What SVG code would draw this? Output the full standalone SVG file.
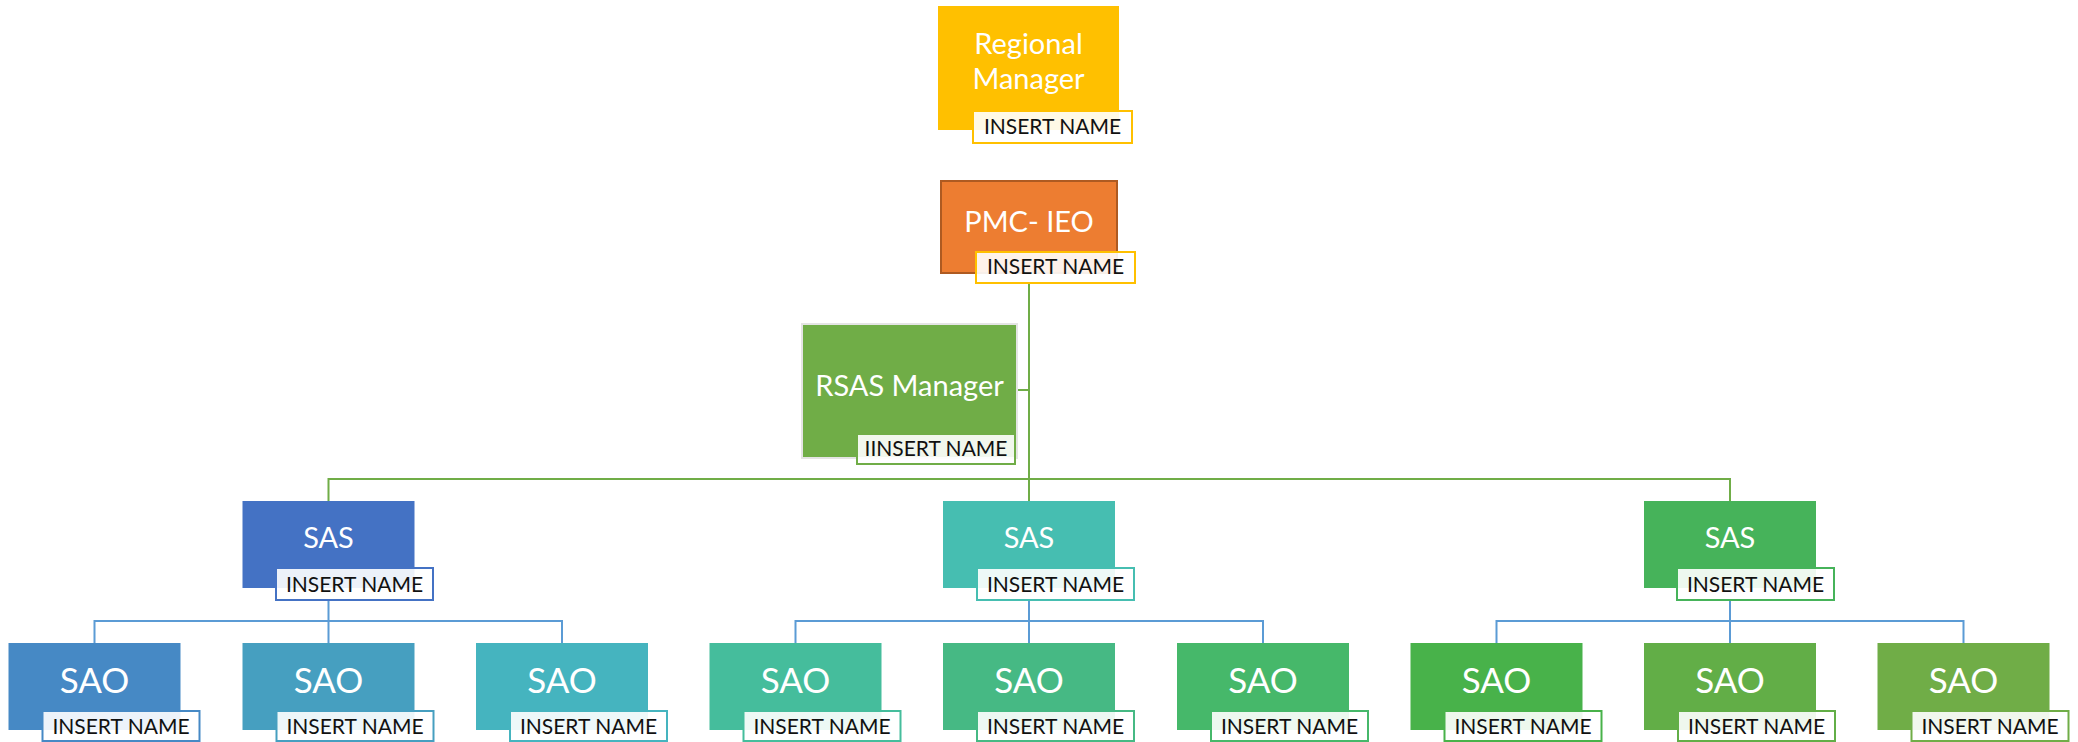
<svg xmlns="http://www.w3.org/2000/svg" width="2078" height="742" viewBox="0 0 2078 742">
  <style>
    .title { font-family: Lato, "Open Sans", sans-serif; fill: #ffffff; text-anchor: middle; font-size: 29px; }
    .big { font-size: 35px; }
    .name { font-family: Lato, "Open Sans", sans-serif; fill: #111111; text-anchor: middle; font-size: 21px; }
    .tag { fill: #ffffff; fill-opacity: 0.9; stroke-width: 2; }
    .wire-g { fill: none; stroke: #70AD47; stroke-width: 2; }
    .wire-b { fill: none; stroke: #5B9BD5; stroke-width: 2; }
  </style>

  <!-- connectors -->
  <g id="connectors">
    <path class="wire-g" d="M1029 283 V501"/>
    <path class="wire-g" d="M1017 390 H1029"/>
    <path class="wire-g" d="M328.5 501 V479 H1730 V501"/>
    <path class="wire-b" d="M328.5 600 V621 M94.5 643 V621 H562 V643 M328.5 621 V643"/>
    <path class="wire-b" d="M1029 600 V621 M795.5 643 V621 H1263 V643 M1029 621 V643"/>
    <path class="wire-b" d="M1730 600 V621 M1496.5 643 V621 H1963.5 V643 M1730 621 V643"/>
  </g>

  <!-- top level -->
  <g id="regional-manager">
    <rect x="938" y="6" width="181" height="124" fill="#FFC000"/>
    <text class="title" x="1028.5" y="54">Regional</text>
    <text class="title" x="1028.5" y="89">Manager</text>
    <rect class="tag" x="973" y="111" width="159" height="32" stroke="#FFC000"/>
    <text class="name" x="1052.5" y="134">INSERT NAME</text>
  </g>

  <g id="pmc-ieo">
    <rect x="941" y="181" width="176" height="92" fill="#ED7D31" stroke="#AE5A21" stroke-width="2"/>
    <text class="title" x="1029" y="232">PMC- IEO</text>
    <rect class="tag" x="976" y="252" width="159" height="31" stroke="#FFC000"/>
    <text class="name" x="1055.5" y="274">INSERT NAME</text>
  </g>

  <g id="rsas-manager">
    <rect x="802" y="324" width="215" height="134" fill="#70AD47" stroke="#E4E4E4" stroke-width="2"/>
    <text class="title" x="909.5" y="396">RSAS Manager</text>
    <rect class="tag" x="857" y="434" width="158" height="30" stroke="#70AD47"/>
    <text class="name" x="936" y="456">IINSERT NAME</text>
  </g>

  <!-- SAS level -->
  <g id="sas-1">
    <rect x="242.5" y="501" width="172" height="87" fill="#4472C4"/>
    <text class="title" x="328.5" y="548">SAS</text>
    <rect class="tag" x="276" y="568" width="157" height="32" stroke="#4472C4"/>
    <text class="name" x="354.5" y="592">INSERT NAME</text>
  </g>
  <g id="sas-2">
    <rect x="943" y="501" width="172" height="87" fill="#46BEB1"/>
    <text class="title" x="1029" y="548">SAS</text>
    <rect class="tag" x="977" y="568" width="157" height="32" stroke="#46BEB1"/>
    <text class="name" x="1055.5" y="592">INSERT NAME</text>
  </g>
  <g id="sas-3">
    <rect x="1644" y="501" width="172" height="87" fill="#46B35A"/>
    <text class="title" x="1730" y="548">SAS</text>
    <rect class="tag" x="1677" y="568" width="157" height="32" stroke="#46B35A"/>
    <text class="name" x="1755.5" y="592">INSERT NAME</text>
  </g>

  <!-- SAO level -->
  <g id="sao-1">
    <rect x="8.5" y="643" width="172" height="87" fill="#4689C5"/>
    <text class="title big" x="94.5" y="693">SAO</text>
    <rect class="tag" x="42.5" y="711" width="157" height="30" stroke="#4689C5"/>
    <text class="name" x="121" y="734">INSERT NAME</text>
  </g>
  <g id="sao-2">
    <rect x="242.5" y="643" width="172" height="87" fill="#469FC0"/>
    <text class="title big" x="328.5" y="693">SAO</text>
    <rect class="tag" x="276.5" y="711" width="157" height="30" stroke="#469FC0"/>
    <text class="name" x="355" y="734">INSERT NAME</text>
  </g>
  <g id="sao-3">
    <rect x="476" y="643" width="172" height="87" fill="#45B4BF"/>
    <text class="title big" x="562" y="693">SAO</text>
    <rect class="tag" x="510" y="711" width="157" height="30" stroke="#45B4BF"/>
    <text class="name" x="588.5" y="734">INSERT NAME</text>
  </g>
  <g id="sao-4">
    <rect x="709.5" y="643" width="172" height="87" fill="#45BD9C"/>
    <text class="title big" x="795.5" y="693">SAO</text>
    <rect class="tag" x="743.5" y="711" width="157" height="30" stroke="#45BD9C"/>
    <text class="name" x="822" y="734">INSERT NAME</text>
  </g>
  <g id="sao-5">
    <rect x="943" y="643" width="172" height="87" fill="#46B984"/>
    <text class="title big" x="1029" y="693">SAO</text>
    <rect class="tag" x="977" y="711" width="157" height="30" stroke="#46B984"/>
    <text class="name" x="1055.5" y="734">INSERT NAME</text>
  </g>
  <g id="sao-6">
    <rect x="1177" y="643" width="172" height="87" fill="#46B86A"/>
    <text class="title big" x="1263" y="693">SAO</text>
    <rect class="tag" x="1211" y="711" width="157" height="30" stroke="#46B86A"/>
    <text class="name" x="1289.5" y="734">INSERT NAME</text>
  </g>
  <g id="sao-7">
    <rect x="1410.5" y="643" width="172" height="87" fill="#48B24A"/>
    <text class="title big" x="1496.5" y="693">SAO</text>
    <rect class="tag" x="1444.5" y="711" width="157" height="30" stroke="#48B24A"/>
    <text class="name" x="1523" y="734">INSERT NAME</text>
  </g>
  <g id="sao-8">
    <rect x="1644" y="643" width="172" height="87" fill="#62AE47"/>
    <text class="title big" x="1730" y="693">SAO</text>
    <rect class="tag" x="1678" y="711" width="157" height="30" stroke="#62AE47"/>
    <text class="name" x="1756.5" y="734">INSERT NAME</text>
  </g>
  <g id="sao-9">
    <rect x="1877.5" y="643" width="172" height="87" fill="#70AD47"/>
    <text class="title big" x="1963.5" y="693">SAO</text>
    <rect class="tag" x="1911.5" y="711" width="157" height="30" stroke="#70AD47"/>
    <text class="name" x="1990" y="734">INSERT NAME</text>
  </g>
</svg>
